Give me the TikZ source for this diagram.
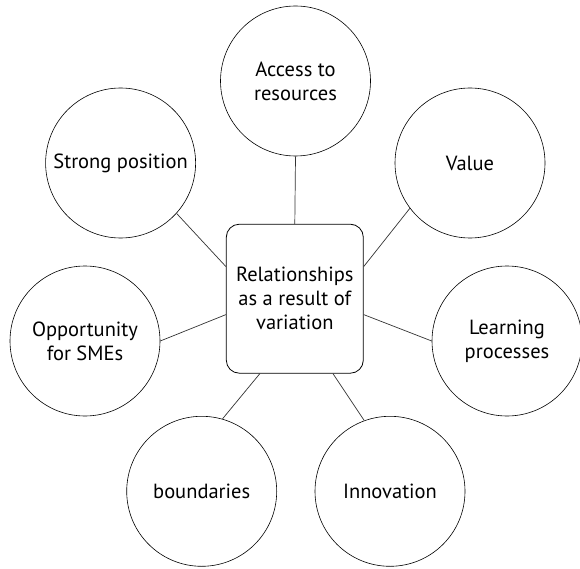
\documentclass[tikz,border=0pt]{standalone}
\usepackage{fontspec}
\setmainfont{PT Sans}
\usetikzlibrary{calc}

\begin{document}
\begin{tikzpicture}[x=1pt, y=-1pt]

\useasboundingbox (0, 0) rectangle (580, 569) ;

\def\bubblesize{150}
\def\hubwidth{137}
\def\hubheight{149}

\tikzstyle{bubble} = [shape=circle, draw=black, line width=.6pt, minimum size=\bubblesize pt, inner sep=0pt, align=center, font=\fontsize{20.5}{24}\selectfont]
\tikzstyle{hub} = [shape=rectangle, rounded corners=13pt, draw=black, line width=.8pt, minimum width=\hubwidth pt, minimum height=\hubheight pt, inner sep=0pt, align=center, font=\fontsize{20.5}{24}\selectfont]
\tikzstyle{spoke} = [line width=.7pt, color=black!80]

% centre

\node [hub] (relationships) at (294.8, 298.7) {Relationships\\as a result of\\variation} ;

% bubbles

\node [bubble] (access)      at (295.5, 81)    {Access to\\resources} ;
\node [bubble] (strong)      at (120.6, 163)   {Strong position} ;
\node [bubble] (value)       at (470, 163)     {Value} ;
\node [bubble] (opportunity) at (85, 341)      {Opportunity\\for SMEs} ;
\node [bubble] (learning)    at (507, 341)     {Learning\\processes} ;
\node [bubble] (boundaries)  at (201.7, 491.3) {boundaries} ;
\node [bubble] (innovation)  at (390, 491.3)   {Innovation} ;

% spokes

\draw [spoke] (access.south) -- (relationships.north) ;
\draw [spoke] (strong.-42) -- (relationships.155) ;
\draw [spoke] (value.217) -- (relationships.25) ;
\draw [spoke] (opportunity.east) -- (relationships.193) ;
\draw [spoke] (learning.west) -- (relationships.-13) ;
\draw [spoke] (boundaries.74) -- (relationships.245) ;
\draw [spoke] (innovation.110) -- (relationships.-63) ;

\end{tikzpicture}
\end{document}
